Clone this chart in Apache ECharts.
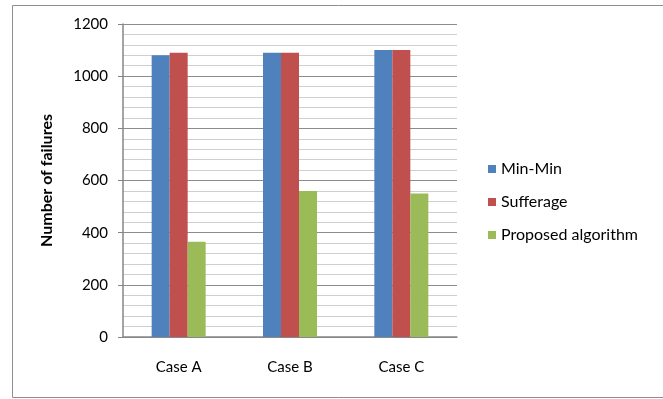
<!DOCTYPE html>
<html>
<head>
<meta charset="utf-8">
<script src="https://cdn.jsdelivr.net/npm/echarts@6/dist/echarts.min.js"></script>
<style>
  html, body { margin: 0; padding: 0; background: #fff; }
  #chart { width: 663px; height: 399px; }
</style>
</head>
<body>
<div id="chart"></div>
<script>
// Failure counts per test case for each scheduling heuristic
const categories = ['Case A', 'Case B', 'Case C'];
const minMin = [1080, 1090, 1100];
const sufferage = [1090, 1090, 1100];
const proposed = [365, 560, 550];
const yTicks = { min: 0, max: 1200, interval: 200 };

const FONT = 'Lato, "Open Sans", sans-serif';

const chart = echarts.init(document.getElementById('chart'), null, { renderer: 'canvas' });

function barSeries(name, data, color) {
  return {
    name: name,
    type: 'bar',
    data: data,
    barWidth: 18,
    barGap: '0%',
    itemStyle: { color: color },
    emphasis: { disabled: true }
  };
}

chart.setOption({
  animation: false,
  textStyle: { fontFamily: FONT },
  graphic: [{
    type: 'rect',
    shape: { x: 12.5, y: 5.5, width: 700, height: 392 },
    style: { fill: 'none', stroke: '#8e8e8e', lineWidth: 1 },
    silent: true
  }],
  grid: { left: 123, right: 206, top: 24, bottom: 62 },
  legend: {
    orient: 'vertical',
    left: 483,
    top: 156,
    itemWidth: 8,
    itemHeight: 8,
    itemGap: 17,
    icon: 'rect',
    textStyle: { fontFamily: FONT, fontSize: 16, color: '#000' },
    data: ['Min-Min', 'Sufferage', 'Proposed algorithm']
  },
  xAxis: {
    type: 'category',
    data: categories,
    axisLine: { lineStyle: { color: '#868686', width: 1.5 } },
    axisTick: { show: false },
    axisLabel: { fontFamily: FONT, fontSize: 15, color: '#000', margin: 23 }
  },
  yAxis: {
    type: 'value',
    min: yTicks.min,
    max: yTicks.max,
    interval: yTicks.interval,
    name: 'Number of failures',
    nameLocation: 'middle',
    nameGap: 68,
    nameRotate: 90,
    nameTextStyle: { fontFamily: FONT, fontSize: 16, fontWeight: 'bold', color: '#000' },
    axisLine: { show: true, lineStyle: { color: '#868686', width: 1.5 } },
    axisTick: { show: true, inside: false, length: 5, lineStyle: { color: '#868686' } },
    axisLabel: {
      fontFamily: FONT, fontSize: 15, color: '#000', margin: 15,
      formatter: function (v) { return String(v); }
    },
    splitLine: { show: true, lineStyle: { color: '#8c8c8c', width: 1 } },
    minorTick: { show: false, splitNumber: 5 },
    minorSplitLine: { show: true, lineStyle: { color: '#cfcfcf', width: 1 } }
  },
  series: [
    barSeries('Min-Min', minMin, '#4F81BD'),
    barSeries('Sufferage', sufferage, '#C0504D'),
    barSeries('Proposed algorithm', proposed, '#9BBB59')
  ]
});
</script>
</body>
</html>
